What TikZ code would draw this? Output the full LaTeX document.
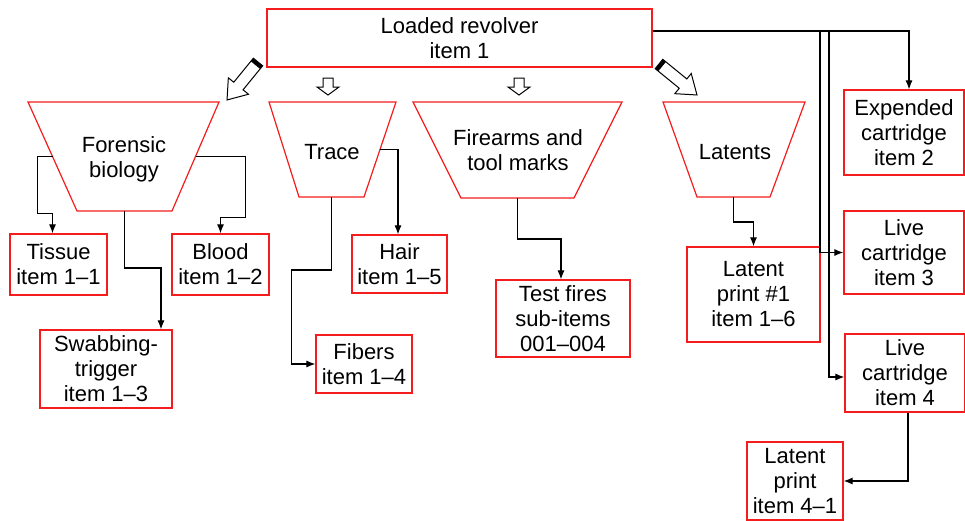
\documentclass[tikz,border=0pt]{standalone}
\usepackage{fontspec}
\setmainfont{Liberation Sans}
\usepackage{tikz}
\usetikzlibrary{arrows.meta,positioning}
\definecolor{boxred}{HTML}{F41C1C}

\tikzset{
  itembox/.style={draw=boxred,line width=1.2pt,align=center,inner sep=0pt,
    font=\fontsize{22}{25}\selectfont},
  labtext/.style={align=center,inner sep=0pt,font=\fontsize{22}{25}\selectfont},
  labline/.style={draw=boxred,line width=1.2pt,line join=miter},
  link/.style={line width=1.1pt,-{Latex[length=9pt,width=7pt]}},
  hollow/.style={line width=1pt,fill=white,line join=miter},
}

\begin{document}
\begin{tikzpicture}[x=1pt,y=-1pt]
  \useasboundingbox (0,0) rectangle (965,520);

  % main item
  \node[itembox,minimum width=385pt,minimum height=58pt] (gun) at (459.5,38) {Loaded revolver\\item 1};

  % sections (upside-down trapezia)
  \draw[labline] (28,102) -- (219,102) -- coordinate (bio-e) (172,211) -- coordinate (bio-s) (77,211) -- coordinate (bio-w) (28,102) -- cycle;
  \node[labtext] (bio) at (124,159) {Forensic\\biology};
  \draw[labline] (269,102) -- (396,102) -- coordinate (trace-e) (364,197) -- coordinate (trace-s) (299,197) -- (269,102) -- cycle;
  \node[labtext] (trace) at (332,152) {Trace};
  \draw[labline] (413,102) -- (622,102) -- (574,198) -- coordinate (fire-s) (461,198) -- (413,102) -- cycle;
  \node[labtext] (fire) at (518,150) {Firearms and\\tool marks};
  \draw[labline] (663,102) -- (805,102) -- (770,197) -- coordinate (lat-s) (697,197) -- (663,102) -- cycle;
  \node[labtext] (lat) at (735,152) {Latents};

  % sub-items
  \node[itembox,minimum width=97pt,minimum height=61pt] (tissue) at (58.5,264.5) {Tissue\\item 1–1};
  \node[itembox,minimum width=97pt,minimum height=61pt] (blood) at (220.5,264.5) {Blood\\item 1–2};
  \node[itembox,minimum width=132pt,minimum height=78pt] (swab) at (106,369) {Swabbing-\\trigger\\item 1–3};
  \node[itembox,minimum width=95pt,minimum height=58pt] (hair) at (399.5,264) {Hair\\item 1–5};
  \node[itembox,minimum width=96pt,minimum height=58pt] (fibers) at (364,364) {Fibers\\item 1–4};
  \node[itembox,minimum width=134pt,minimum height=77pt] (tests) at (563,318.5) {Test fires\\sub-items\\001–004};
  \node[itembox,minimum width=133pt,minimum height=95pt] (print1) at (753.5,294.5) {Latent\\print \#1\\item 1–6};
  \node[itembox,minimum width=120pt,minimum height=85pt] (spent) at (904,132.5) {Expended\\cartridge\\item 2};
  \node[itembox,minimum width=120pt,minimum height=83pt] (live3) at (904,252.5) {Live\\cartridge\\item 3};
  \node[itembox,minimum width=120pt,minimum height=78pt] (live4) at (905,373) {Live\\cartridge\\item 4};
  \node[itembox,minimum width=96pt,minimum height=78pt] (print4) at (795,481) {Latent\\print\\item 4–1};

  % hollow arrows to sections
  \begin{scope}[shift={(258,62)},rotate=-129.2]
    \draw[hollow] (0,-6) -- (31,-6) -- (31,-13) -- (49,0) -- (31,13) -- (31,6) -- (0,6) -- cycle;
    \fill (0,-6) rectangle (4,6);
  \end{scope}
  \begin{scope}[shift={(659,64)},rotate=-39.2]
    \draw[hollow] (0,-6) -- (31,-6) -- (31,-13) -- (49,0) -- (31,13) -- (31,6) -- (0,6) -- cycle;
    \fill (0,-6) rectangle (4,6);
  \end{scope}
  \foreach \ax in {328,519}
    \draw[hollow,shift={(\ax,78)},rotate=-90] (0,-5) -- (9,-5) -- (9,-11) -- (17,0) -- (9,11) -- (9,5) -- (0,5) -- cycle;

  % connectors
  \draw[link] (bio-w) -| ++(-15,57) -| ([xshift=-6pt]tissue.north);
  \draw[link] (bio-e) -| ++(50,61) -| (blood.north);
  \draw[link] (bio-s) -- ++(0,57) -| ([xshift=55pt]swab.north);
  \draw[link] (trace-e) -| ([xshift=-1.5pt]hair.north);
  \draw[link] (trace-s) -- ++(0,73) -- ++(-40,0) |- (fibers.west);
  \draw[link] (fire-s) -- ++(0,41) -| ([xshift=-2pt]tests.north);
  \draw[link] (lat-s) -- ++(0,25) -| (print1.north);

  \coordinate (tap) at ([yshift=7pt]gun.east);
  \draw[link] (tap) -| ([xshift=5pt]spent.north);
  \draw[link] (tap -| 820,0) |- (live3.west);
  \draw[link] (tap -| 829,0) |- ([yshift=-4pt]live4.west);
  \draw[link] ([xshift=3pt]live4.south) |- (print4.east);
\end{tikzpicture}
\end{document}
